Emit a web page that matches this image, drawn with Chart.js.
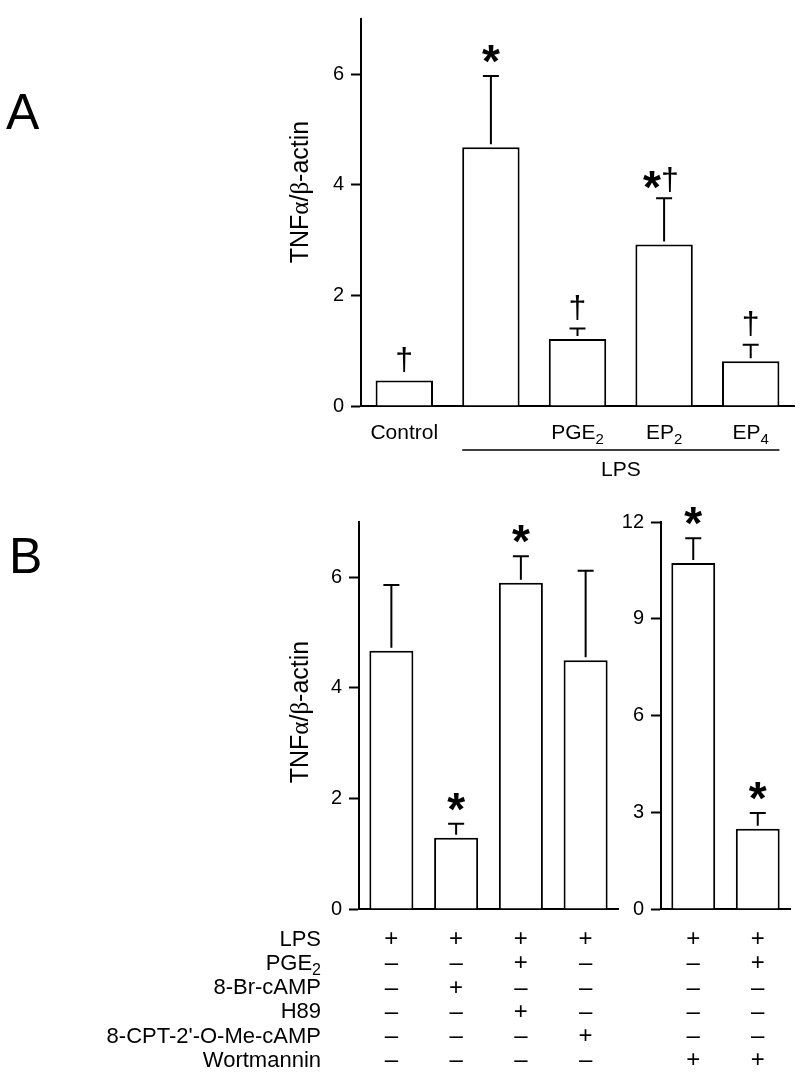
<!DOCTYPE html>
<html><head><meta charset="utf-8">
<script src="https://cdn.jsdelivr.net/npm/chart.js@4/dist/chart.umd.min.js"></script>
<style>
html,body{margin:0;padding:0;background:#fff;}
#wrap{position:relative;width:800px;height:1075px;overflow:hidden;background:#fff;}
canvas{position:absolute;left:0;top:0;}
</style></head><body>
<div id="wrap">
<canvas id="cA" width="800" height="1075"></canvas>
<canvas id="cBL" width="800" height="1075"></canvas>
<canvas id="cBR" width="800" height="1075"></canvas>
</div>
<script>
// ---------- DATA ----------
const catsA   = ['Control', 'LPS', 'PGE_2', 'EP_2', 'EP_4'];
const xLabelsA = ['Control', '', 'PGE_2', 'EP_2', 'EP_4'];
const valsA   = [0.46, 4.68, 1.21, 2.92, 0.81];
const errsA   = [0, 1.29, 0.19, 0.84, 0.30];
const marksA  = ['†', '*', '†', '*†', '†'];
const ticksA  = [0, 2, 4, 6];

const catsBL  = ['c1', 'c2', 'c3', 'c4'];
const valsBL  = [4.67, 1.29, 5.90, 4.50];
const errsBL  = [1.19, 0.25, 0.48, 1.62];
const marksBL = ['', '*', '*', ''];
const ticksBL = [0, 2, 4, 6];

const catsBR  = ['c5', 'c6'];
const valsBR  = [10.73, 2.49];
const errsBR  = [0.77, 0.49];
const marksBR = ['*', '*'];
const ticksBR = [0, 3, 6, 9, 12];

const tableRows = ['LPS', 'PGE_2', '8-Br-cAMP', 'H89', "8-CPT-2'-O-Me-cAMP", 'Wortmannin'];
const tableLPS  = ['+', '+', '+', '+', '+', '+'];
const tablePGE2 = ['–', '–', '+', '–', '–', '+'];
const tableBr   = ['–', '+', '–', '–', '–', '–'];
const tableH89  = ['–', '–', '+', '–', '–', '–'];
const tableCPT  = ['–', '–', '–', '+', '–', '–'];
const tableWort = ['–', '–', '–', '–', '+', '+'];
const tableCells = [tableLPS, tablePGE2, tableBr, tableH89, tableCPT, tableWort];

// ---------- HELPERS ----------
const W = 800, H = 1075;
const SANS = '"Liberation Sans", Arial, Helvetica, sans-serif';
const SERIF = '"Liberation Serif", "Times New Roman", serif';

function centerText(ctx, txt, font, cx, cy) {
  ctx.save();
  ctx.font = font;
  ctx.textAlign = 'left';
  ctx.textBaseline = 'alphabetic';
  const m = ctx.measureText(txt);
  const L = m.actualBoundingBoxLeft, R = m.actualBoundingBoxRight;
  const A = m.actualBoundingBoxAscent, D = m.actualBoundingBoxDescent;
  ctx.fillStyle = '#000';
  ctx.fillText(txt, cx - (R - L) / 2, cy + (A - D) / 2);
  ctx.restore();
}

// draw label with optional subscript ("PGE_2")
function drawSubLabel(ctx, str, x, baseline, size, align) {
  const parts = str.split('_');
  const main = parts[0], sub = parts[1] || '';
  const subSize = Math.round(size * 0.72);
  ctx.save();
  ctx.fillStyle = '#000';
  ctx.textBaseline = 'alphabetic';
  ctx.textAlign = 'left';
  ctx.font = size + 'px ' + SANS;
  const wm = ctx.measureText(main).width;
  ctx.font = subSize + 'px ' + SANS;
  const ws = sub ? ctx.measureText(sub).width : 0;
  const total = wm + ws;
  let x0 = x;
  if (align === 'center') x0 = x - total / 2;
  else if (align === 'right') x0 = x - total;
  ctx.font = size + 'px ' + SANS;
  ctx.fillText(main, x0, baseline);
  if (sub) {
    ctx.font = subSize + 'px ' + SANS;
    ctx.fillText(sub, x0 + wm, baseline + size * 0.25);
  }
  ctx.restore();
}

function drawYTitle(ctx, xBase, cy) {
  const size = 25;
  const pieces = [['TNF', SANS], ['α', SERIF], ['/', SANS], ['β', SERIF], ['-actin', SANS]];
  ctx.save();
  ctx.fillStyle = '#000';
  ctx.textBaseline = 'alphabetic';
  ctx.textAlign = 'left';
  let total = 0;
  const widths = pieces.map(p => { ctx.font = size + 'px ' + p[1]; const w = ctx.measureText(p[0]).width; total += w; return w; });
  ctx.translate(xBase, cy);
  ctx.rotate(-Math.PI / 2);
  let x = -total / 2;
  pieces.forEach((p, i) => { ctx.font = size + 'px ' + p[1]; ctx.fillText(p[0], x, 0); x += widths[i]; });
  ctx.restore();
}

function drawErrorsAndMarks(chart, values, errors, marks) {
  const ctx = chart.ctx;
  const meta = chart.getDatasetMeta(0);
  const ys = chart.scales.y;
  ctx.save();
  ctx.strokeStyle = '#000';
  ctx.lineWidth = 2;
  meta.data.forEach((el, i) => {
    const x = el.x;
    const yTop = el.y;
    const yErr = ys.getPixelForValue(values[i] + errors[i]);
    if (errors[i] > 0) {
      ctx.beginPath();
      ctx.moveTo(x, yTop - 3);
      ctx.lineTo(x, yErr);
      ctx.moveTo(x - 8, yErr);
      ctx.lineTo(x + 8, yErr);
      ctx.stroke();
    }
    const mk = marks[i];
    const starFont = 'bold 46px ' + SANS;
    const dagFont = '32px ' + SANS;
    if (mk === '*') centerText(ctx, '*', starFont, x, yErr - 22);
    else if (mk === '†') centerText(ctx, '†', dagFont, x, yErr - 21);
    else if (mk === '*†') {
      centerText(ctx, '*', starFont, x - 12, yErr - 18);
      centerText(ctx, '†', dagFont, x + 6, yErr - 19);
    }
  });
  ctx.restore();
}

function makeChart(id, cfg) {
  const YW = 70;
  return new Chart(document.getElementById(id), {
    type: 'bar',
    data: {
      labels: cfg.labels,
      datasets: [{
        data: cfg.values,
        backgroundColor: '#ffffff',
        borderColor: '#000000',
        borderWidth: 2,
        barPercentage: cfg.barPct,
        categoryPercentage: 1
      }]
    },
    options: {
      responsive: false,
      animation: false,
      devicePixelRatio: 1,
      layout: { padding: { left: cfg.area.left - YW, top: cfg.area.top, right: W - cfg.area.right, bottom: H - cfg.area.bottom } },
      plugins: { legend: { display: false }, tooltip: { enabled: false } },
      scales: {
        x: {
          type: 'category', offset: true,
          ticks: { display: false },
          grid: { display: true, drawOnChartArea: false, drawTicks: false },
          border: { display: true, color: '#000', width: 2 },
          afterFit(s) { s.height = 0; }
        },
        y: {
          min: 0, max: cfg.max,
          afterFit(s) { s.width = YW; },
          afterBuildTicks(s) { s.ticks = cfg.ticks.map(v => ({ value: v })); },
          ticks: { font: { family: SANS, size: 20 }, color: '#000', padding: 7 },
          grid: { display: true, drawOnChartArea: false, drawTicks: true, tickLength: 10, tickColor: '#000', tickWidth: 2 },
          border: { display: true, color: '#000', width: 2 }
        }
      }
    },
    plugins: [{ id: 'extras', afterDraw(chart) { cfg.draw(chart); } }]
  });
}

const ROW0 = 945.7, ROWSTEP = 24.2;
function drawTableCols(chart, colOffset, nCols) {
  const ctx = chart.ctx;
  const xs = chart.scales.x;
  for (let r = 0; r < tableCells.length; r++) {
    const cy = ROW0 + r * ROWSTEP - 7.5;
    for (let c = 0; c < nCols; c++) {
      const sym = tableCells[r][colOffset + c];
      const x = xs.getPixelForValue(c);
      ctx.save();
      ctx.font = '24px ' + SANS;
      ctx.fillStyle = '#000';
      ctx.textAlign = 'center';
      ctx.textBaseline = 'alphabetic';
      const m = ctx.measureText('+');
      const base = cy + (m.actualBoundingBoxAscent - m.actualBoundingBoxDescent) / 2;
      ctx.fillText(sym, x, base);
      ctx.restore();
    }
  }
}

// ---------- CHART A ----------
makeChart('cA', {
  labels: catsA, values: valsA, max: 7, ticks: ticksA, barPct: 0.663,
  area: { left: 361, right: 794, top: 17, bottom: 406 },
  draw(chart) {
    const ctx = chart.ctx;
    drawErrorsAndMarks(chart, valsA, errsA, marksA);
    const meta = chart.getDatasetMeta(0);
    xLabelsA.forEach((lab, i) => { if (lab) drawSubLabel(ctx, lab, meta.data[i].x, 439, 21, 'center'); });
    // LPS bracket
    const l = meta.data[1].x - meta.data[1].width / 2;
    const r = meta.data[4].x + meta.data[4].width / 2;
    ctx.save();
    ctx.strokeStyle = '#000'; ctx.lineWidth = 1.5;
    ctx.beginPath(); ctx.moveTo(l, 450); ctx.lineTo(r, 450); ctx.stroke();
    ctx.restore();
    drawSubLabel(ctx, 'LPS', (l + r) / 2, 476, 21, 'center');
    drawYTitle(ctx, 308, 192);
    ctx.save(); ctx.fillStyle = '#000'; ctx.font = '50px ' + SANS; ctx.textAlign = 'left'; ctx.textBaseline = 'alphabetic';
    ctx.fillText('A', 6, 129); ctx.restore();
  }
});

// ---------- CHART B left ----------
makeChart('cBL', {
  labels: catsBL, values: valsBL, max: 7, ticks: ticksBL, barPct: 0.68,
  area: { left: 359, right: 618, top: 522, bottom: 909 },
  draw(chart) {
    const ctx = chart.ctx;
    drawErrorsAndMarks(chart, valsBL, errsBL, marksBL);
    drawYTitle(ctx, 308, 712);
    ctx.save(); ctx.fillStyle = '#000'; ctx.font = '50px ' + SANS; ctx.textAlign = 'left'; ctx.textBaseline = 'alphabetic';
    ctx.fillText('B', 9, 573); ctx.restore();
    tableRows.forEach((lab, r) => drawSubLabel(ctx, lab, 321, ROW0 + r * ROWSTEP, 22, 'right'));
    drawTableCols(chart, 0, catsBL.length);
  }
});

// ---------- CHART B right ----------
makeChart('cBR', {
  labels: catsBR, values: valsBR, max: 12, ticks: ticksBR, barPct: 0.68,
  area: { left: 661, right: 790, top: 522, bottom: 909 },
  draw(chart) {
    drawErrorsAndMarks(chart, valsBR, errsBR, marksBR);
    drawTableCols(chart, catsBL.length, catsBR.length);
  }
});
</script>
</body></html>
